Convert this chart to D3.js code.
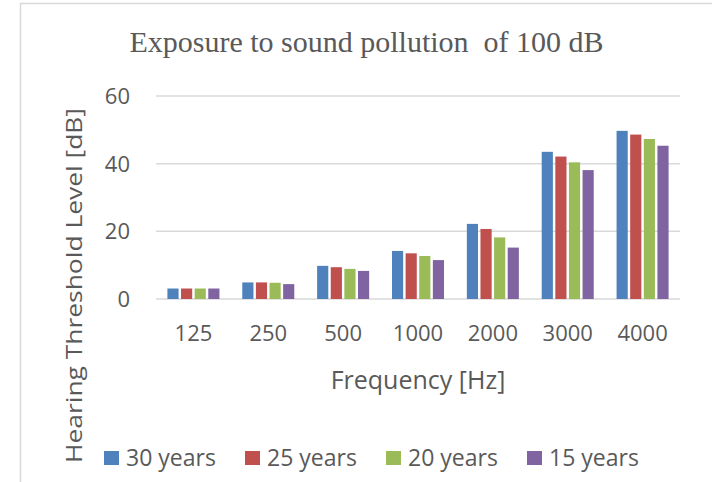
<!DOCTYPE html>
<html>
<head>
<meta charset="utf-8">
<script src="https://cdn.jsdelivr.net/npm/d3@7"></script>
<style>
    html, body { margin: 0; padding: 0; background: #fff; }
    svg { display: block; }
</style>
</head>
<body>
<div id="chart"></div>
<script>
// values
const frequencies = ["125", "250", "500", "1000", "2000", "3000", "4000"];
const seriesNames = ["30 years", "25 years", "20 years", "15 years"];
const years30 = [3.1, 4.9, 9.8, 14.2, 22.2, 43.5, 49.7];
const years25 = [3.1, 4.9, 9.4, 13.5, 20.7, 42.1, 48.6];
const years20 = [3.1, 4.8, 8.9, 12.7, 18.2, 40.4, 47.3];
const years15 = [3.1, 4.4, 8.3, 11.5, 15.2, 38.1, 45.3];
const yTicks = [0, 20, 40, 60];

const colors = ["#4F81BD", "#C0504D", "#9BBB59", "#8064A2"];
const seriesValues = [years30, years25, years20, years15];

const W = 712, H = 482;
const plot = {left: 156, right: 680, top: 96, bottom: 299};
const textColor = "#595959";
const sans = "'Open Sans', sans-serif";

const svg = d3.select("#chart").append("svg")
    .attr("width", W)
    .attr("height", H);

// chart frame
svg.append("rect")
    .attr("x", 20.5).attr("y", 3.5)
    .attr("width", W).attr("height", H)
    .attr("fill", "#fff")
    .attr("stroke", "#d9d9d9")
    .attr("stroke-width", 1.5);

const x0 = d3.scaleBand()
    .domain(frequencies)
    .range([plot.left, plot.right])
    .paddingInner(0.305)
    .paddingOuter(0.1525);

const x1 = d3.scaleBand()
    .domain(seriesNames)
    .range([0, x0.bandwidth()])
    .paddingInner(0.18);

const y = d3.scaleLinear()
    .domain([0, 60])
    .range([plot.bottom, plot.top]);

// gridlines
svg.append("g").selectAll("line")
    .data(yTicks)
    .enter()
    .append("line")
        .attr("x1", plot.left).attr("x2", plot.right)
        .attr("y1", d => y(d)).attr("y2", d => y(d))
        .attr("stroke", "#d9d9d9")
        .attr("stroke-width", 1.5);

// y tick labels
svg.append("g").selectAll("text")
    .data(yTicks)
    .enter()
    .append("text")
        .attr("x", 130)
        .attr("y", d => y(d))
        .attr("dy", "0.36em")
        .attr("text-anchor", "end")
        .style("font-family", sans)
        .style("font-size", "22px")
        .style("fill", textColor)
        .text(d => d);

// bars
const rows = frequencies.map((f, i) => ({
    freq: f,
    values: seriesNames.map((s, j) => ({name: s, value: seriesValues[j][i], color: colors[j]}))
}));

svg.append("g").selectAll("g")
    .data(rows)
    .enter()
    .append("g")
        .attr("transform", d => `translate(${x0(d.freq)},0)`)
    .selectAll("rect")
    .data(d => d.values)
    .enter()
    .append("rect")
        .attr("x", d => x1(d.name))
        .attr("y", d => y(d.value))
        .attr("width", x1.bandwidth())
        .attr("height", d => y(0) - y(d.value))
        .attr("fill", d => d.color);

// x tick labels
svg.append("g").selectAll("text")
    .data(frequencies)
    .enter()
    .append("text")
        .attr("x", d => x0(d) + x0.bandwidth() / 2)
        .attr("y", 341)
        .attr("text-anchor", "middle")
        .style("font-family", sans)
        .style("font-size", "22px")
        .style("fill", textColor)
        .text(d => d);

// axis titles
svg.append("text")
    .attr("x", (plot.left + plot.right) / 2)
    .attr("y", 389)
    .attr("text-anchor", "middle")
    .style("font-family", sans)
    .style("font-size", "25px")
    .style("fill", textColor)
    .text("Frequency [Hz]");

svg.append("text")
    .attr("transform", "translate(82,285.5) rotate(-90)")
    .attr("text-anchor", "middle")
    .attr("textLength", 355)
    .attr("lengthAdjust", "spacingAndGlyphs")
    .style("font-family", sans)
    .style("font-size", "21px")
    .style("fill", textColor)
    .text("Hearing Threshold Level [dB]");

// title
svg.append("text")
    .attr("x", 366.5)
    .attr("y", 52)
    .attr("text-anchor", "middle")
    .style("white-space", "pre")
    .style("font-family", "'Liberation Serif', 'Times New Roman', serif")
    .style("font-size", "30px")
    .style("fill", textColor)
    .text("Exposure to sound pollution  of 100 dB");

// legend
const legend = svg.append("g").selectAll("g")
    .data(seriesNames)
    .enter()
    .append("g")
        .attr("transform", (d, i) => `translate(${104 + i * 141},451)`);

legend.append("rect")
    .attr("width", 15)
    .attr("height", 14)
    .attr("fill", (d, i) => colors[i]);

legend.append("text")
    .attr("x", 22)
    .attr("y", 15)
    .style("font-family", sans)
    .style("font-size", "23px")
    .style("fill", textColor)
    .text(d => d);
</script>
</body>
</html>
